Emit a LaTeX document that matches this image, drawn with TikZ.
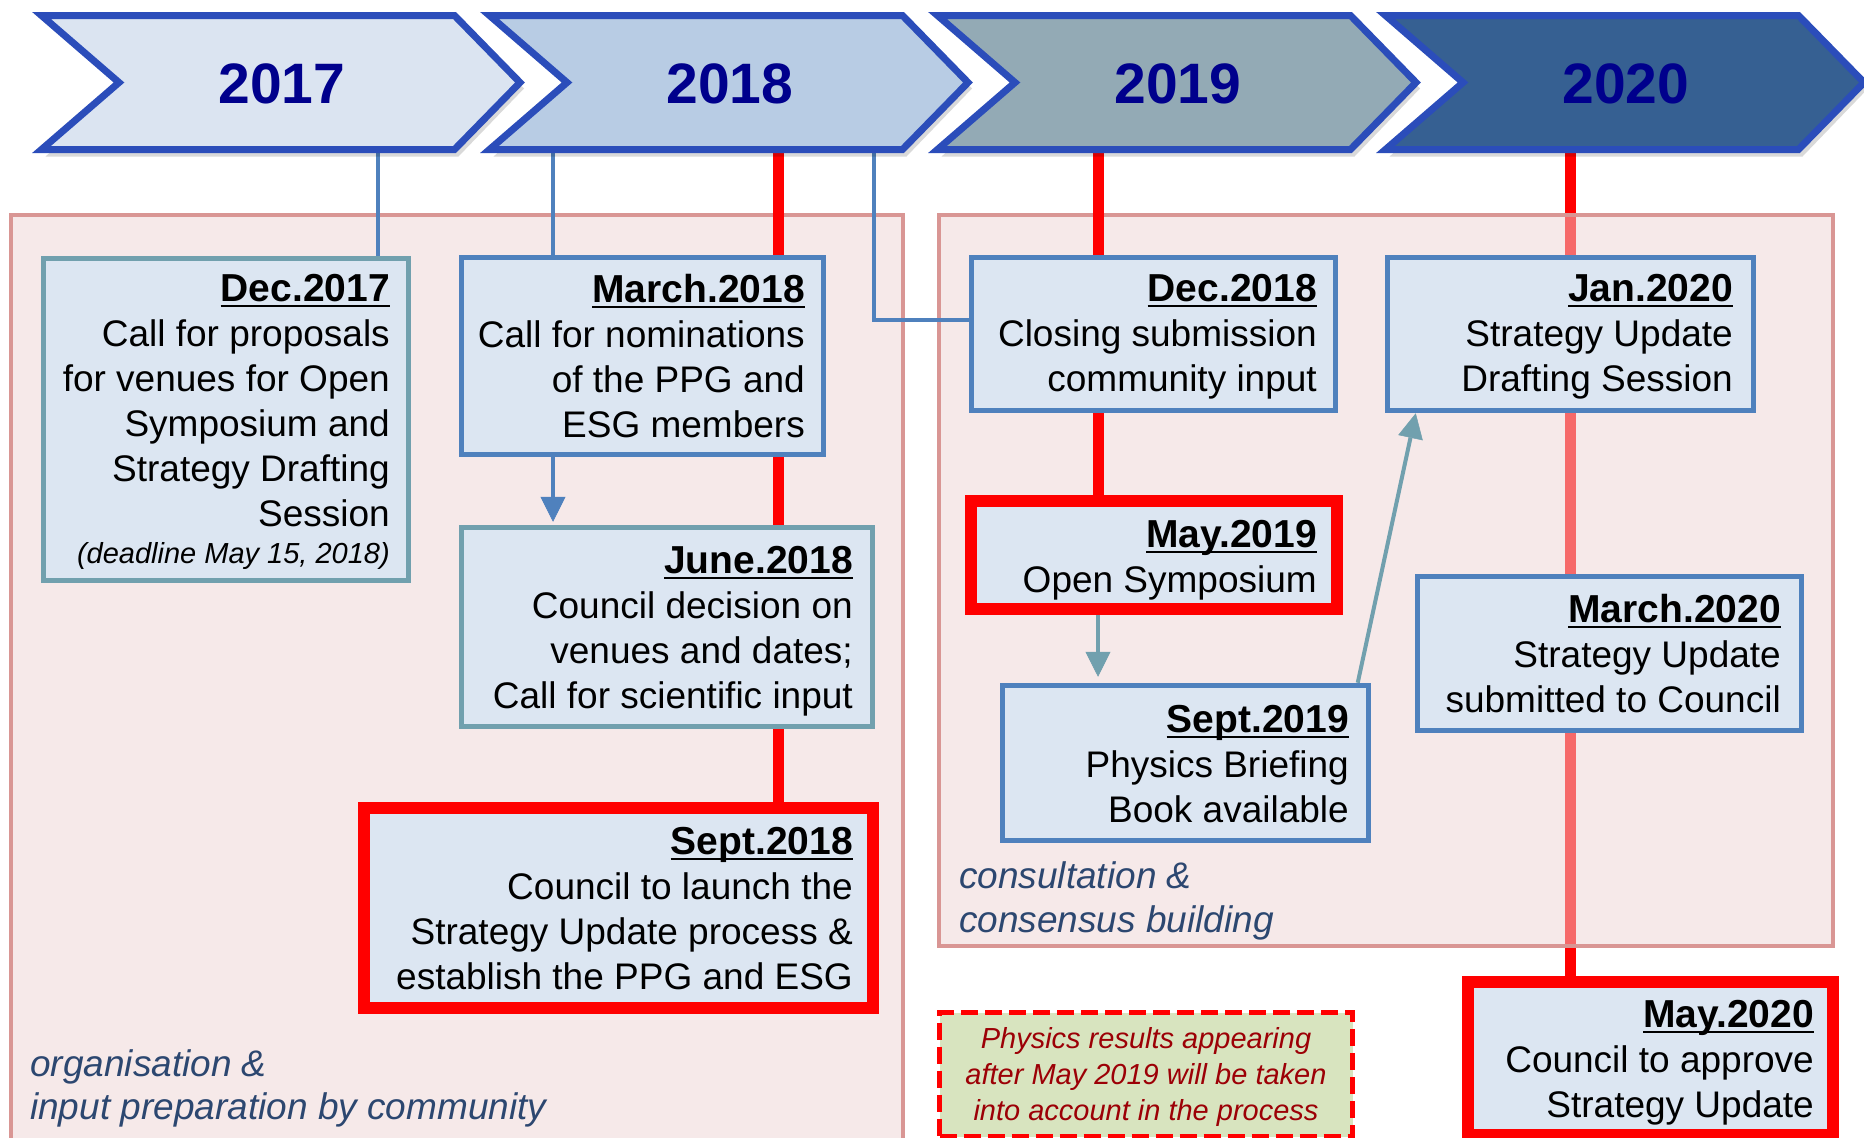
\documentclass[tikz,border=0pt]{standalone}
\usepackage{fontspec}
\setmainfont{Liberation Sans}
\usetikzlibrary{arrows.meta,calc}
\pgfdeclarelayer{under}
\pgfdeclarelayer{regions}
\pgfdeclarelayer{lines}
\pgfsetlayers{under,regions,lines,main}
\definecolor{boxfill}{HTML}{DCE6F2}
\definecolor{boxblue}{HTML}{4F81BD}
\definecolor{boxteal}{HTML}{71A0AE}
\definecolor{regstroke}{HTML}{D99694}
\definecolor{regfill}{HTML}{EED3D3}
\definecolor{chevline}{HTML}{2B4DBA}
\definecolor{yeartxt}{HTML}{00008C}
\definecolor{labtxt}{HTML}{2C4770}
\definecolor{notefill}{HTML}{D8E4BF}
\definecolor{notetxt}{HTML}{9C0006}
\definecolor{chA}{HTML}{DBE4F1}
\definecolor{chB}{HTML}{B8CCE4}
\definecolor{chC}{HTML}{93AAB5}
\definecolor{chD}{HTML}{366092}
\newsavebox\ulbox
\newcommand\ulx[1]{\sbox\ulbox{#1}\rlap{\rule[-6pt]{\wd\ulbox}{2pt}}\usebox\ulbox}
\newcommand\ttl[1]{\rule{0pt}{36pt}{\fontsize{39}{45}\selectfont\bfseries\ulx{#1}}}
\tikzset{
  chevron/.style={draw=chevline, line width=7pt, line join=miter},
  yearlbl/.style={anchor=base, text=yeartxt, inner sep=0pt, font=\fontsize{57}{60}\selectfont\bfseries},
  bluebox/.style={draw=boxblue, line width=5.5pt, fill=boxfill, inner sep=0pt},
  tealbox/.style={draw=boxteal, line width=5.5pt, fill=boxfill, inner sep=0pt},
  redbox/.style={draw=red, line width=12pt, fill=boxfill, inner sep=0pt},
  txt/.style={anchor=north east, align=right, inner sep=0pt, font=\fontsize{37}{45}\selectfont},
  lab/.style={anchor=north west, align=left, inner sep=0pt, text=labtxt, font=\fontsize{37}{44}\selectfont\itshape},
  region/.style={draw=regstroke, line width=4.5pt, fill=regfill, fill opacity=0.5},
  notebox/.style={draw=red, line width=5pt, dash pattern=on 17pt off 7pt, fill=notefill, inner sep=0pt, align=center, text=notetxt, font=\fontsize{29}{36}\selectfont\itshape},
  bline/.style={draw=boxblue, line width=4pt},
  rline/.style={draw=red, line width=11pt},
  barrow/.style={draw=boxblue, line width=4pt, -{Triangle[width=25pt,length=25pt,line width=0.5pt]}},
  tarrow/.style={draw=boxteal, line width=4pt, -{Triangle[width=25pt,length=25pt,line width=0.5pt]}},
}
\begin{document}
\begin{tikzpicture}[x=1pt,y=-1pt]
\useasboundingbox (0,0) rectangle (1864,1138);
% chevrons
\foreach \L/\c/\yr in {33/chA/2017, 481/chB/2018, 929/chC/2019, 1377/chD/2020} {
  \fill[black, opacity=0.15] (\L+12.5,21.5) -- (\L+425.5,21.5) -- (\L+491,88.5) -- (\L+425.5,156.5) -- (\L+12.5,156.5) -- (\L+90,88.5) -- cycle;
  \draw[chevron, fill=\c] (\L+8.5,15.5) -- (\L+421.5,15.5) -- (\L+487,82.5) -- (\L+421.5,149.5) -- (\L+8.5,149.5) -- (\L+86,82.5) -- cycle;
  \node[yearlbl] (y\yr) at (\L+249,103) {\yr};
}
% regions
\begin{pgfonlayer}{regions}
\draw[region] (11,215) rectangle (903,1180);
\draw[region] (939,215) rectangle (1833,946);
\end{pgfonlayer}
% boxes
\node[tealbox, minimum width=365pt, minimum height=322pt] (d17) at (226,419.5) {};
\node[bluebox, minimum width=362pt, minimum height=197pt] (m18) at (642.5,356) {};
\node[tealbox, minimum width=411pt, minimum height=199pt] (j18) at (667,627) {};
\node[redbox, minimum width=509pt, minimum height=200pt] (s18) at (618,907.5) {};
\node[bluebox, minimum width=364pt, minimum height=153pt] (d18) at (1153.5,334) {};
\node[bluebox, minimum width=366pt, minimum height=153pt] (j20) at (1570.5,334) {};
\node[redbox, minimum width=366pt, minimum height=108pt] (my19) at (1154,555) {};
\node[bluebox, minimum width=366pt, minimum height=155pt] (s19) at (1185.5,763) {};
\node[bluebox, minimum width=384pt, minimum height=154pt] (m20) at (1609.5,653.5) {};
\node[redbox, minimum width=365pt, minimum height=153pt] (my20) at (1650.5,1058.5) {};
% texts
\node[txt] (d17t) at (390,265) {\ttl{Dec.2017}\\Call for proposals\\for venues for Open\\Symposium and\\Strategy Drafting\\Session\\[-8pt]{\fontsize{29}{37}\selectfont\itshape (deadline May 15, 2018)}};
\node[txt] (m18t) at (805,266) {\ttl{March.2018}\\Call for nominations\\of the PPG and\\ESG members};
\node[txt] (j18t) at (853,537) {\ttl{June.2018}\\Council decision on\\venues and dates;\\Call for scientific input};
\node[txt] (s18t) at (853,818) {\ttl{Sept.2018}\\Council to launch the\\Strategy Update process \&\\establish the PPG and ESG};
\node[txt] (d18t) at (1317,265) {\ttl{Dec.2018}\\Closing submission\\community input};
\node[txt] (j20t) at (1733,265) {\ttl{Jan.2020}\\Strategy Update\\Drafting Session};
\node[txt] (my19t) at (1317,511) {\ttl{May.2019}\\Open Symposium};
\node[txt] (s19t) at (1349,696) {\ttl{Sept.2019}\\Physics Briefing\\Book available};
\node[txt] (m20t) at (1781,586) {\ttl{March.2020}\\Strategy Update\\submitted to Council};
\node[txt] (my20t) at (1814,991) {\ttl{May.2020}\\Council to approve\\Strategy Update};
% note and labels
\node[notebox, minimum width=413pt, minimum height=124pt] (note) at (1146,1074.5) {\rule{0pt}{25pt}Physics results appearing\\after May 2019 will be taken\\into account in the process};
\node[lab] (lab1) at (30,1040) {\rule{0pt}{36pt}organisation \&\\[-1pt]input preparation by community};
\node[lab] (lab2) at (959,852) {\rule{0pt}{36pt}consultation \&\\consensus building};
% connectors
\coordinate (c17) at (378,140);
\coordinate (c18a) at (553,140);
\coordinate (c18r) at (778,140);
\coordinate (c18b) at (874,140);
\coordinate (c19) at (1098,140);
\coordinate (c20) at (1570,140);
\begin{pgfonlayer}{under}
\draw[rline] (c20) -- (c20 |- my20.north);
\end{pgfonlayer}
\begin{pgfonlayer}{lines}
\draw[bline] (c17) -- (c17 |- d17.north);
\draw[bline] (c18a) -- (c18a |- m18.north);
\draw[rline] (c18r) -- (c18r |- s18.north);
\draw[bline] (c18b) |- ([yshift=14pt]d18.west);
\draw[rline] (c19) -- (c19 |- my19.north);
\draw[barrow, shorten >=3pt] (c18a |- m18.south) -- (c18a |- j18.north);
\draw[tarrow, shorten >=6pt] (c19 |- my19.south) -- (c19 |- s19.north);
\draw[tarrow] ([xshift=-13.5pt]s19.north east) -- ([xshift=31pt]j20.south west);
\end{pgfonlayer}
\end{tikzpicture}
\end{document}
